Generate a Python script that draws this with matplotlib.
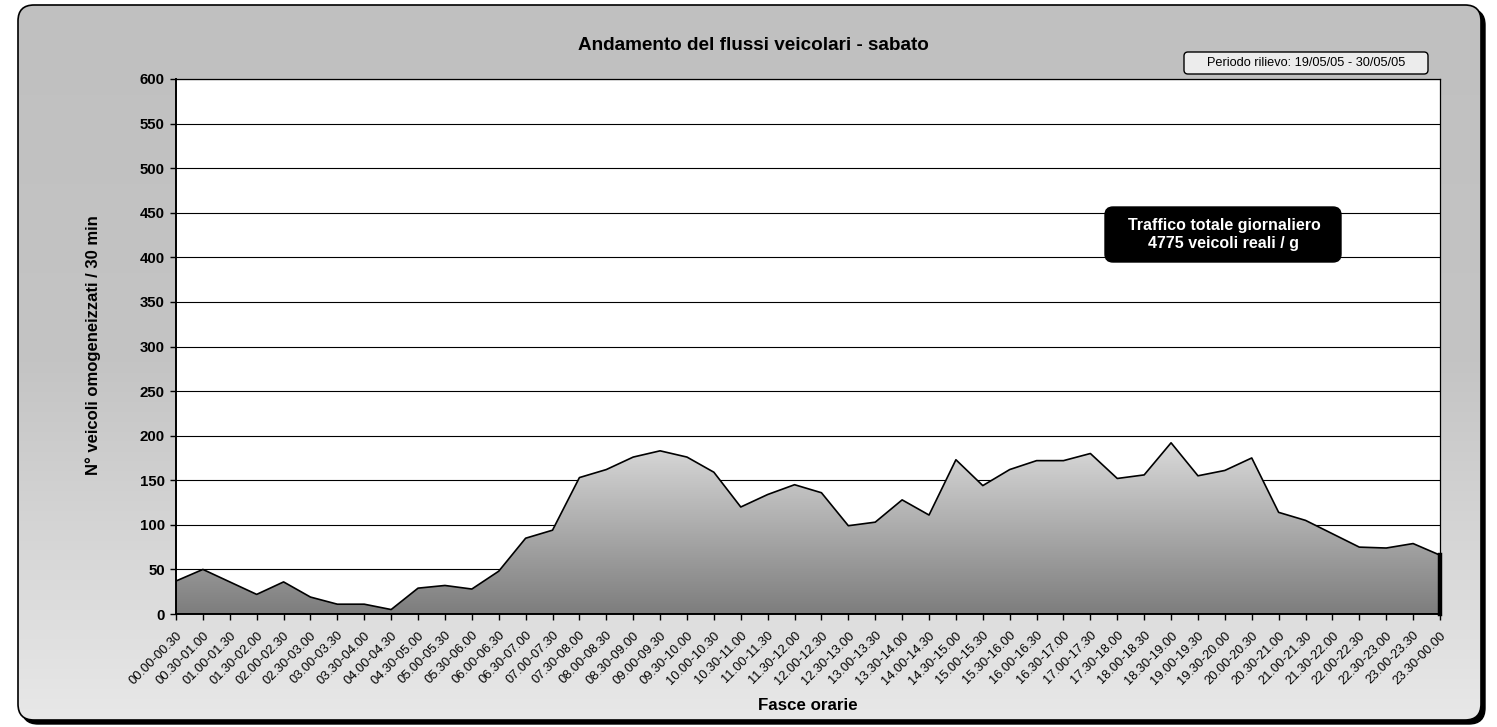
import numpy as np
import matplotlib
matplotlib.use("Agg")
import matplotlib.pyplot as plt
from matplotlib.patches import FancyBboxPatch, Polygon

plt.rcParams['font.family'] = ['Liberation Sans', 'DejaVu Sans']

fasce = ["00.00-00.30", "00.30-01.00", "01.00-01.30", "01.30-02.00", "02.00-02.30", "02.30-03.00",
         "03.00-03.30", "03.30-04.00", "04.00-04.30", "04.30-05.00", "05.00-05.30", "05.30-06.00",
         "06.00-06.30", "06.30-07.00", "07.00-07.30", "07.30-08.00", "08.00-08.30", "08.30-09.00",
         "09.00-09.30", "09.30-10.00", "10.00-10.30", "10.30-11.00", "11.00-11.30", "11.30-12.00",
         "12.00-12.30", "12.30-13.00", "13.00-13.30", "13.30-14.00", "14.00-14.30", "14.30-15.00",
         "15.00-15.30", "15.30-16.00", "16.00-16.30", "16.30-17.00", "17.00-17.30", "17.30-18.00",
         "18.00-18.30", "18.30-19.00", "19.00-19.30", "19.30-20.00", "20.00-20.30", "20.30-21.00",
         "21.00-21.30", "21.30-22.00", "22.00-22.30", "22.30-23.00", "23.00-23.30", "23.30-00.00"]
veicoli = [37, 50, 36, 22, 36, 19, 11, 11, 5, 29, 32, 28,
           48, 85, 94, 153, 162, 176, 183, 176, 159, 120, 134, 145,
           136, 99, 103, 128, 111, 173, 144, 162, 172, 172, 180, 152,
           156, 192, 155, 161, 175, 114, 105, 90, 75, 74, 79, 66]
yticks = list(range(0, 601, 50))

W, H = 1497, 727
fig = plt.figure(figsize=(W / 100, H / 100), dpi=100)

# background axes
bg = fig.add_axes([0, 0, 1, 1])
bg.set_xlim(0, W)
bg.set_ylim(H, 0)
bg.axis('off')
bg.set_zorder(0)
x0, y0, x1, y1 = 18, 5, 1481, 720
shadow = FancyBboxPatch((x0 + 4, y0 + 4), x1 - x0, y1 - y0, boxstyle="round,pad=0,rounding_size=16",
                        facecolor='black', edgecolor='black', lw=1)
bg.add_patch(shadow)
frame = FancyBboxPatch((x0, y0), x1 - x0, y1 - y0, boxstyle="round,pad=0,rounding_size=16",
                       facecolor='none', edgecolor='black', lw=1.2, zorder=3)
bg.add_patch(frame)
grad = np.linspace(0, 1, 256).reshape(-1, 1)
cmap_bg = matplotlib.colors.LinearSegmentedColormap.from_list('bg', ['#c0c0c0', '#c4c4c4', '#e8e8e8'])
im = bg.imshow(grad, extent=[x0, x1, y1, y0], aspect='auto', cmap=cmap_bg, zorder=2)
im.set_clip_path(frame)

# main axes
ax = fig.add_axes([176 / W, 1 - 614 / H, (1440 - 176) / W, (614 - 79) / H])
ax.set_zorder(1)
ax.set_facecolor('white')
x = np.arange(len(veicoli))
ax.set_yticks(yticks)
ax.set_yticklabels([str(v) for v in yticks], fontsize=10.8, fontweight='bold')
ax.yaxis.grid(True, color='black', lw=0.8)
ax.set_axisbelow(True)
ax.set_xticks(x)
ax.set_xticklabels(fasce, rotation=45, ha='right', rotation_mode='anchor', fontsize=9.3)
ax.tick_params(axis='x', length=4, width=1, pad=7)
ax.tick_params(axis='y', length=4, width=1, pad=4)
for s in ax.spines.values():
    s.set_color('black')
    s.set_linewidth(0.9)
ax.spines['left'].set_linewidth(1.4)
ax.spines['bottom'].set_linewidth(1.4)

# gradient area
ymax = max(veicoli)
cmap_area = matplotlib.colors.LinearSegmentedColormap.from_list('ar', ['#7d7d7d', '#dadada'])
gimg = np.linspace(0, 1, 256).reshape(-1, 1)
area_img = ax.imshow(gimg, extent=[0, len(veicoli) - 1, 0, ymax], origin='lower', aspect='auto',
                     cmap=cmap_area, zorder=2)
verts = [(0, 0)] + list(zip(x, veicoli)) + [(len(veicoli) - 1, 0)]
poly = Polygon(verts, closed=True, facecolor='none', edgecolor='black', lw=1.2, zorder=3,
               joinstyle='round')
ax.add_patch(poly)
area_img.set_clip_path(poly)
ax.plot([len(veicoli) - 1, len(veicoli) - 1], [0, veicoli[-1]], color='black', lw=3.2,
        zorder=4, clip_on=False)
ax.set_ylim(0, 600)
ax.set_xlim(0, len(veicoli) - 1)

fig.text(93 / W, 1 - 345 / H, "N° veicoli omogeneizzati / 30 min", rotation=90, ha='center',
         va='center', fontsize=12, fontweight='bold')
fig.text(808 / W, 1 - 706 / H, "Fasce orarie", ha='center', va='center',
         fontsize=12.2, fontweight='bold')
fig.text(753 / W, 1 - 45 / H, "Andamento del flussi veicolari - sabato", ha='center', va='center',
         fontsize=13.6, fontweight='bold')

# overlay for boxes
ov = fig.add_axes([0, 0, 1, 1])
ov.set_xlim(0, W)
ov.set_ylim(H, 0)
ov.axis('off')
ov.set_zorder(2)
ov.add_patch(FancyBboxPatch((1184, 52), 244, 22, boxstyle="round,pad=0,rounding_size=4",
                            facecolor='#ececec', edgecolor='black', lw=1))
ov.text(1306, 63, "Periodo rilievo: 19/05/05 - 30/05/05", ha='center', va='center', fontsize=9.2)
ov.add_patch(FancyBboxPatch((1105, 207), 236, 55, boxstyle="round,pad=0,rounding_size=8",
                            facecolor='black', edgecolor='black', lw=1))
ov.text(1224, 234.5, "Traffico totale giornaliero\n4775 veicoli reali / g", ha='center', va='center',
        fontsize=11.5, fontweight='bold', color='white', linespacing=1.25)

fig.savefig("out.png", dpi=100)
